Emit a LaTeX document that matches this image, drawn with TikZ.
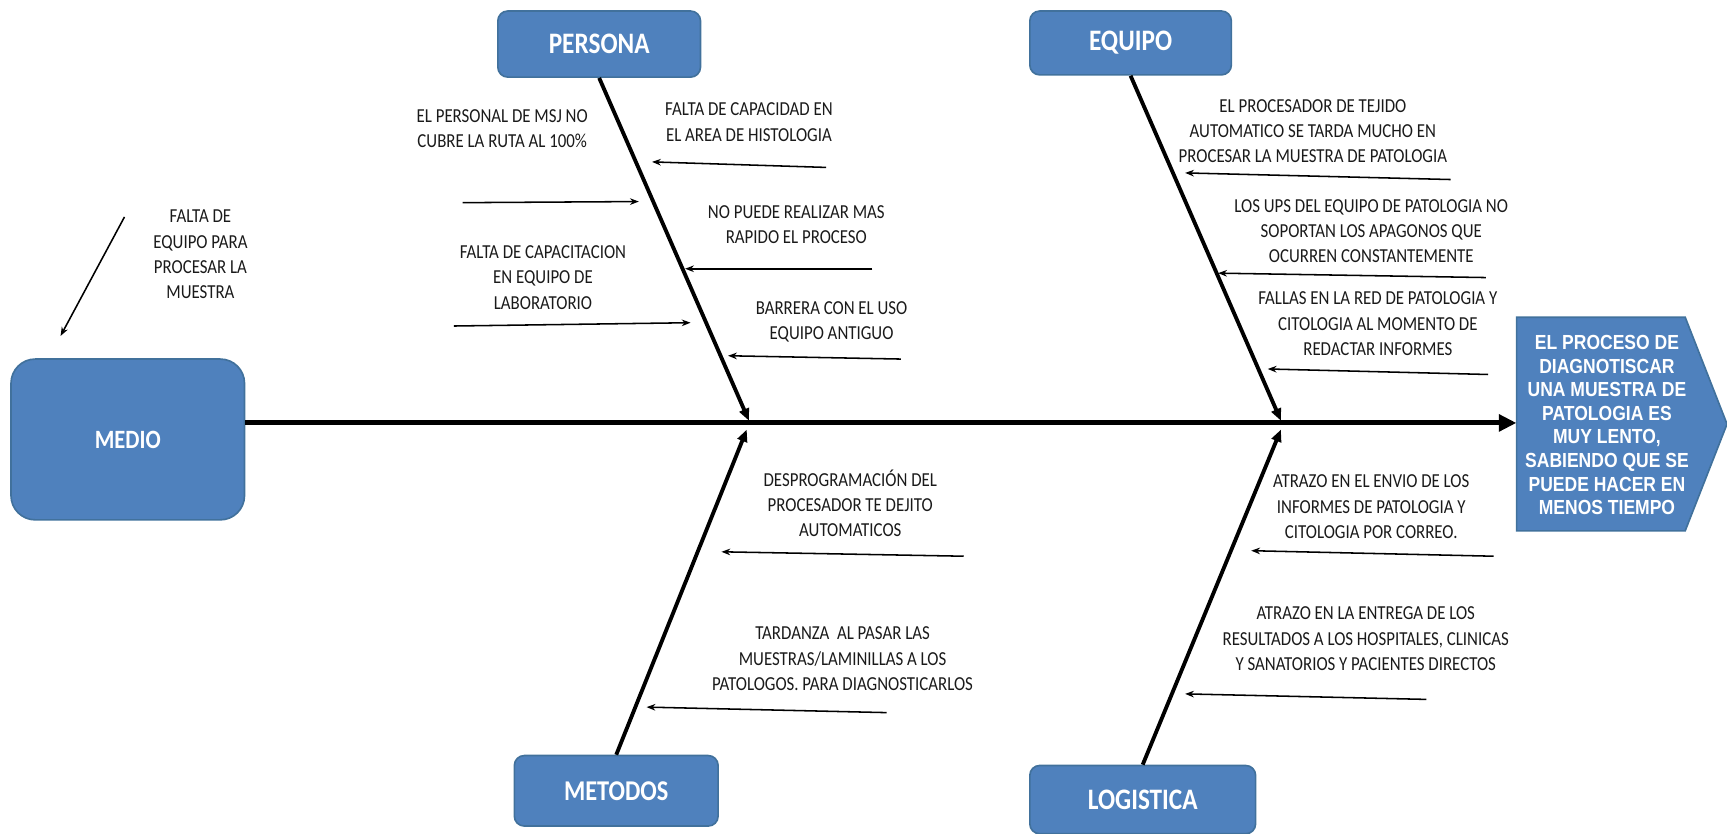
\documentclass[tikz,border=0pt]{standalone}
\usepackage{fontspec}
\setmainfont{Carlito}[FakeStretch=0.85]
\newfontfamily\headfont{Liberation Sans}[FakeStretch=0.86]
\usetikzlibrary{arrows.meta}
\definecolor{boxblue}{HTML}{4F81BD}
\definecolor{boxedge}{HTML}{41719C}
\definecolor{txt}{HTML}{1A1A1A}
\tikzset{
 cat/.style={draw=boxedge, line width=1.5pt, fill=boxblue, rounded corners=9pt, text=white,
   font=\fontsize{27}{30}\selectfont\bfseries, minimum width=184pt, minimum height=60pt, inner sep=0pt},
 lbl/.style={text=txt, font=\fontsize{18}{23}\selectfont, align=center, inner sep=0pt},
 bone/.style={line width=3.5pt, -{Triangle[length=11pt,width=9pt]}},
 sub/.style={line width=1.4pt, -{Stealth[length=8pt,width=6pt]}},
 spine/.style={line width=4.5pt, -{Triangle[length=16pt,width=15pt]}},
}
\begin{document}
\begin{tikzpicture}[x=1pt,y=-1pt]
\useasboundingbox (0,0) rectangle (1568,757);
% category boxes
\node[cat] (persona) at (544,40) {PERSONA};
\node[cat, minimum width=183pt, minimum height=58pt] (equipo) at (1026.5,39) {EQUIPO};
\node[cat, minimum width=212pt, minimum height=146pt, rounded corners=22pt,
      font=\fontsize{24}{28}\selectfont\bfseries] (medio) at (116,399) {MEDIO};
\node[cat, minimum width=185pt, minimum height=64pt, font=\fontsize{26}{30}\selectfont\bfseries] (metodos) at (559.5,718) {METODOS};
\node[cat, minimum width=205pt, minimum height=62pt] (logistica) at (1037.5,726) {LOGISTICA};
% head
\fill[boxblue, draw=boxedge, line width=1.5pt] (1377,288) -- (1530,288) -- (1568,385) -- (1530,482) -- (1377,482) -- cycle;
\node[minimum width=191pt, minimum height=194pt, inner sep=0pt] (head) at (1472.5,384) {};
\node[text=white, font=\headfont\bfseries\fontsize{18.5}{21.4}\selectfont, align=center, inner sep=0pt] (headtxt) at (1459,386)
 {EL PROCESO DE\\DIAGNOTISCAR\\UNA MUESTRA DE\\PATOLOGIA ES\\MUY LENTO,\\SABIENDO QUE SE\\PUEDE HACER EN\\MENOS TIEMPO};
% spine
\draw[spine] (medio.east |- head.west) -- (head.west);
% bones
\coordinate (j1) at (680,382);
\coordinate (j2) at (1163,382);
\coordinate (j3) at (678,390);
\coordinate (j4) at (1163,390);
\draw[bone] (persona.south) -- (j1);
\draw[bone] (equipo.south) -- (j2);
\draw[bone] (metodos.north) -- (j3);
\draw[bone] (logistica.north) -- (j4);
% labels
\node[lbl] (p1) at (456,117) {EL PERSONAL DE MSJ NO\\CUBRE LA RUTA AL 100\%};
\node[lbl] (p2) at (680,111) {FALTA DE CAPACIDAD EN\\EL AREA DE HISTOLOGIA};
\node[lbl] (p3) at (723,204) {NO PUEDE REALIZAR MAS\\RAPIDO EL PROCESO};
\node[lbl] (p4) at (493,252) {FALTA DE CAPACITACION\\EN EQUIPO DE\\LABORATORIO};
\node[lbl] (p5) at (755,292) {BARRERA CON EL USO\\EQUIPO ANTIGUO};
\node[lbl] (m1) at (182,231) {FALTA DE\\EQUIPO PARA\\PROCESAR LA\\MUESTRA};
\node[lbl] (e1) at (1192,119) {EL PROCESADOR DE TEJIDO\\AUTOMATICO SE TARDA MUCHO EN\\PROCESAR LA MUESTRA DE PATOLOGIA};
\node[lbl] (e2) at (1245,210) {LOS UPS DEL EQUIPO DE PATOLOGIA NO\\SOPORTAN LOS APAGONOS QUE\\OCURREN CONSTANTEMENTE};
\node[lbl] (e3) at (1251,294) {FALLAS EN LA RED DE PATOLOGIA Y\\CITOLOGIA AL MOMENTO DE\\REDACTAR INFORMES};
\node[lbl] (t1) at (772,457) {DESPROGRAMACIÓN DEL\\PROCESADOR TE DEJITO\\AUTOMATICOS};
\node[lbl] (t2) at (765,598) {TARDANZA\ \ AL PASAR LAS\\MUESTRAS/LAMINILLAS A LOS\\PATOLOGOS. PARA DIAGNOSTICARLOS};
\node[lbl] (l1) at (1245,460) {ATRAZO EN EL ENVIO DE LOS\\INFORMES DE PATOLOGIA Y\\CITOLOGIA POR CORREO.};
\node[lbl] (l2) at (1240,580) {ATRAZO EN LA ENTREGA DE LOS\\RESULTADOS A LOS HOSPITALES, CLINICAS\\Y SANATORIOS Y PACIENTES DIRECTOS};
% sub arrows
\coordinate (pa1s) at (750,152); \coordinate (pa1e) at (592,147);
\coordinate (pa2s) at (792,244); \coordinate (pa2e) at (622,244);
\coordinate (pa3s) at (818,326); \coordinate (pa3e) at (661,323);
\coordinate (pb1s) at (420,184); \coordinate (pb1e) at (580,183);
\coordinate (pb2s) at (412,296); \coordinate (pb2e) at (627,293);
\coordinate (ma1s) at (113,197); \coordinate (ma1e) at (55,305);
\coordinate (ea1s) at (1317,163); \coordinate (ea1e) at (1076,157);
\coordinate (ea2s) at (1349,252); \coordinate (ea2e) at (1106,248);
\coordinate (ea3s) at (1351,340); \coordinate (ea3e) at (1151,335);
\coordinate (ta1s) at (875,505); \coordinate (ta1e) at (655,501);
\coordinate (ta2s) at (805,647); \coordinate (ta2e) at (587,642);
\coordinate (la1s) at (1356,505); \coordinate (la1e) at (1136,500);
\coordinate (la2s) at (1295,635); \coordinate (la2e) at (1076,630);
\foreach \a in {pa1,pa2,pa3,pb1,pb2,ma1,ea1,ea2,ea3,ta1,ta2,la1,la2}
  \draw[sub] (\a s) -- (\a e);
\end{tikzpicture}
\end{document}
